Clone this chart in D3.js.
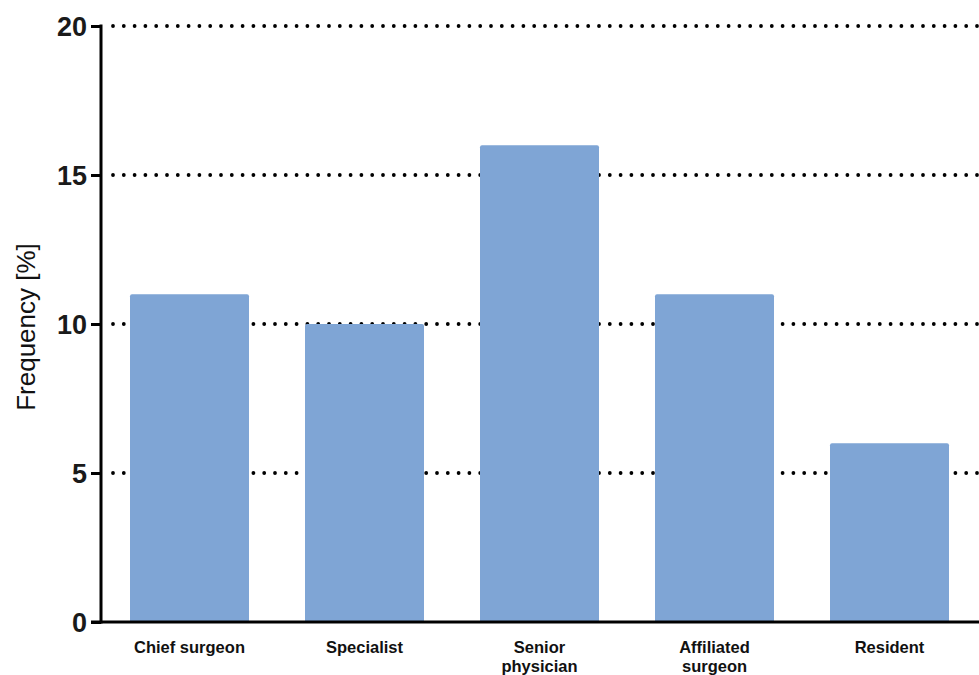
<!DOCTYPE html>
<html>
<head>
<meta charset="utf-8">
<script src="https://cdn.jsdelivr.net/npm/d3@7"></script>
<style>
  body { margin: 0; background: #fff; }
  text { font-family: "Liberation Sans", Arial, sans-serif; }
</style>
</head>
<body>
<div id="graph1"></div>
<script>
const categories = [["Chief surgeon"], ["Specialist"], ["Senior", "physician"], ["Affiliated", "surgeon"], ["Resident"]];
const values = [11, 10, 16, 11, 6];
const yTicks = [0, 5, 10, 15, 20];

const width = 979, height = 675;
const margin = {left: 101, right: 2, top: 26, bottom: 53};

let svg = d3.select("#graph1")
    .append("svg")
    .attr("width", width)
    .attr("height", height);

let names = categories.map(function(c) { return c.join(" "); });

let x = d3.scaleBand()
    .domain(names)
    .range([margin.left + 1, width - margin.right])
    .paddingInner(0.32)
    .paddingOuter(0.16);

let y = d3.scaleLinear()
    .domain([0, 20])
    .range([height - margin.bottom, margin.top]);

// dotted grid lines
svg.append("g")
    .selectAll("line")
    .data(yTicks.filter(function(d) { return d > 0; }))
    .enter()
    .append("line")
    .attr("x1", margin.left + 12)
    .attr("x2", width)
    .attr("y1", function(d) { return y(d); })
    .attr("y2", function(d) { return y(d); })
    .attr("stroke", "#000")
    .attr("stroke-width", 3.8)
    .attr("stroke-linecap", "round")
    .attr("stroke-dasharray", "0 10.8");

// bars
svg.append("g")
    .selectAll("path")
    .data(values)
    .enter()
    .append("path")
    .attr("fill", "#7fa5d5")
    .attr("d", function(d, i) {
        let x0 = x(names[i]), w = x.bandwidth(), y0 = y(d), y1 = y(0), r = 2;
        return `M${x0},${y1}V${y0 + r}Q${x0},${y0} ${x0 + r},${y0}H${x0 + w - r}Q${x0 + w},${y0} ${x0 + w},${y0 + r}V${y1}Z`;
    });

// y axis
let yAxis = svg.append("g")
    .attr("transform", `translate(${margin.left}, 0)`)
    .call(d3.axisLeft(y).tickValues(yTicks).tickSize(10).tickPadding(4).tickSizeOuter(0));
yAxis.select(".domain").attr("stroke-width", 3).attr("d", `M0,${y(20) - 1.5}V${y(0) + 1.5}`);
yAxis.selectAll(".tick line").attr("stroke-width", 3);
yAxis.selectAll(".tick text")
    .style("font-size", "27px")
    .style("font-weight", 700)
    .attr("fill", "#1a1a1a")
    .attr("dy", "0.36em");

// x axis line
svg.append("line")
    .attr("x1", margin.left - 10)
    .attr("x2", width)
    .attr("y1", y(0))
    .attr("y2", y(0))
    .attr("stroke", "#000")
    .attr("stroke-width", 3);

// x labels
let labels = svg.append("g")
    .selectAll("text")
    .data(categories)
    .enter()
    .append("text")
    .attr("x", function(d, i) { return x(names[i]) + x.bandwidth() / 2; })
    .attr("y", y(0) + 31)
    .style("text-anchor", "middle")
    .style("font-size", "16.5px")
    .style("font-weight", 700)
    .attr("fill", "#111");
labels.selectAll("tspan")
    .data(function(d) { return d; })
    .enter()
    .append("tspan")
    .attr("x", function() { return d3.select(this.parentNode).attr("x"); })
    .attr("dy", function(d, i) { return i === 0 ? 0 : "1.15em"; })
    .text(function(d) { return d; });

// y title
svg.append("text")
    .attr("transform", `translate(35, ${(y(0) + y(20)) / 2 + 3}) rotate(-90)`)
    .style("text-anchor", "middle")
    .style("font-size", "26px")
    .attr("fill", "#111")
    .text("Frequency [%]");
</script>
</body>
</html>
